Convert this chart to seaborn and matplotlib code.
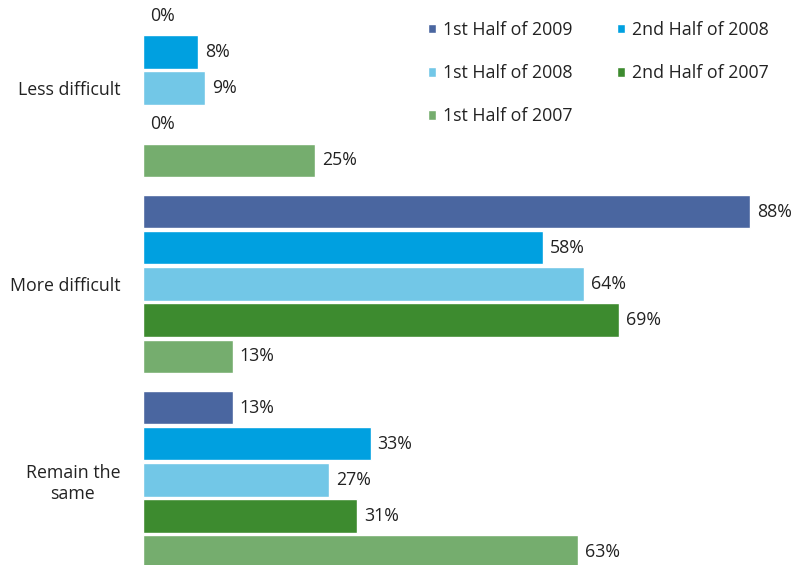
import pandas as pd
import matplotlib.pyplot as plt
import seaborn as sns

# Survey answers by period (percent)
categories = ["Less difficult", "More difficult", "Remain the\nsame"]
periods = ["1st Half of 2009", "2nd Half of 2008", "1st Half of 2008",
           "2nd Half of 2007", "1st Half of 2007"]
h1_2009 = [0, 88, 13]
h2_2008 = [8, 58, 33]
h1_2008 = [9, 64, 27]
h2_2007 = [0, 69, 31]
h1_2007 = [25, 13, 63]

colors = ["#4A66A0", "#00A0E0", "#72C7E7", "#3D8B2F", "#75AD6E"]


def main():
    sns.set_style("white")
    plt.rcParams["font.family"] = ["Open Sans", "DejaVu Sans"]

    values = [h1_2009, h2_2008, h1_2008, h2_2007, h1_2007]
    rows = []
    for period, vals in zip(periods, values):
        for cat, v in zip(categories, vals):
            rows.append({"Category": cat, "Period": period, "Value": v})
    df = pd.DataFrame(rows)

    fig = plt.figure(figsize=(7.99, 5.65), dpi=100)
    ax = fig.add_axes([143 / 799, 0, 1 - 143 / 799, 1])

    sns.barplot(data=df, y="Category", x="Value", hue="Period",
                hue_order=periods, order=categories, palette=colors,
                orient="h", width=0.92, gap=0.08, errorbar=None,
                saturation=1, ax=ax)

    for container in ax.containers:
        for bar in container:
            w = bar.get_width()
            ax.annotate(f"{w:.0f}%", xy=(w, bar.get_y() + bar.get_height() / 2),
                        xytext=(5, 0), textcoords="offset points",
                        ha="left", va="center", fontsize=12.8,
                        color="#222222", annotation_clip=False)

    ax.set_xlim(0, 95.1)
    ax.set_ylim(2.434, -0.449)
    ax.set_xlabel("")
    ax.set_ylabel("")
    ax.set_xticks([])
    ax.tick_params(axis="y", length=0, pad=16.5, labelsize=12.8,
                   labelcolor="#222222")
    for lbl in ax.get_yticklabels():
        lbl.set_multialignment("center")
    sns.despine(ax=ax, left=True, bottom=True)

    # legend filled row by row, like the original
    handles, labels = ax.get_legend_handles_labels()
    order = [0, 2, 4, 1, 3]
    leg = ax.legend([handles[i] for i in order], [labels[i] for i in order],
                    ncol=2, loc="upper left",
                    bbox_to_anchor=(428 / 799, 1 - 21 / 565),
                    bbox_transform=fig.transFigure,
                    frameon=False, fontsize=12.8, handlelength=0.45,
                    handleheight=0.45, handletextpad=0.4, columnspacing=2.5,
                    labelspacing=1.42, borderaxespad=0, borderpad=0)
    for t in leg.get_texts():
        t.set_color("#222222")

    fig.savefig("out.png", dpi=100)


if __name__ == "__main__":
    main()
